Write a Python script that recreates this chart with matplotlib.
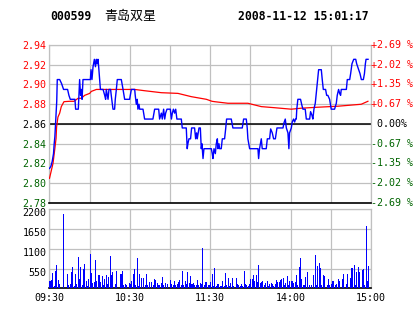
import matplotlib
matplotlib.use("Agg")
import matplotlib.pyplot as plt
from matplotlib.transforms import ScaledTranslation

# header
stock_code = "000599"
stock_name = "青岛双星"
stamp = "2008-11-12 15:01:17"

prev_close = 2.86
price_ticks = [2.94, 2.92, 2.90, 2.88, 2.86, 2.84, 2.82, 2.80, 2.78]
pct_labels = ["+2.69 %", "+2.02 %", "+1.35 %", "+0.67 %", " 0.00%",
              "-0.67 %", "-1.35 %", "-2.02 %", "-2.69 %"]
time_ticks = [0, 60, 120, 180, 240]
time_labels = ["09:30", "10:30", "11:30", "14:00", "15:00"]
vol_ticks = [550, 1100, 1650, 2200]

# minutes since 09:30 (lunch break removed) and price
price_min = [0, 1, 2, 3, 3.5, 4, 4.8, 5.4, 5.8, 7.6, 9, 10.5, 13.5, 14.5, 15.5, 19, 19.5,
             21.5, 22, 22.5, 23.2, 23.8, 24.3, 25, 30.5, 31, 31.7, 32.5, 33.5, 34.3, 35,
             35.6, 36.2, 36.7, 37.4, 38, 40, 41.2, 41.9, 42.4, 43.2, 43.7, 44.4, 45.6,
             46.1, 47.4, 48.6, 49.1, 49.9, 50.6, 53.6, 54.9, 56.1, 59.8, 61.1, 63.6, 64.0,
             64.8, 65.5, 66.0, 66.8, 67.3, 69.8, 71.0, 77.2, 78.5, 81.5, 82.2, 83.5, 84.2,
             85.2, 86.0, 86.7, 87.7, 90.2, 91.0, 91.7, 92.5, 93.4, 94.2, 95.1, 98.4, 99.1,
             102.1, 102.8, 103.3, 104.1, 105.3, 106.1, 108.3, 109.1, 109.8, 110.3, 111.6,
             112.6, 113.3, 113.8, 114.6, 115.3, 120.8, 121.5, 122.0, 122.8, 123.8, 124.5,
             125.3, 125.7, 126.5, 127.0, 128.2, 129.0, 130.7, 131.5, 132.2, 135.7, 136.9,
             143.9, 144.9, 146.9, 147.6, 148.1, 149.4, 155.6, 156.1, 156.8, 158.1, 158.8,
             161.8, 162.6, 164.3, 165.1, 166.3, 167.3, 168.6, 169.8, 174.3, 175.0, 176.0,
             176.8, 178.0, 178.7, 179.2, 180.5, 181.2, 182.2, 183.0, 183.7, 184.2, 184.6,
             185.4, 187.4, 188.4, 189.2, 190.9, 191.7, 194.2, 194.9, 195.9, 196.6, 197.4,
             198.4, 199.9, 200.9, 202.9, 203.6, 204.4, 206.1, 206.9, 207.8, 209.1, 209.8,
             210.3, 212.8, 214.1, 214.8, 215.8, 216.6, 217.3, 217.8, 221.6, 222.3, 224.1,
             224.8, 225.8, 227.1, 228.6, 229.3, 230.8, 231.8, 232.8, 234.3, 235.1, 235.8,
             236.3, 237.8]
price = [2.815, 2.817, 2.822, 2.830, 2.840, 2.847, 2.867, 2.883, 2.905, 2.905, 2.901, 2.895,
         2.895, 2.889, 2.885, 2.885, 2.875, 2.875, 2.889, 2.905, 2.889, 2.895, 2.885, 2.905,
         2.905, 2.915, 2.905, 2.918, 2.9255, 2.918, 2.9255, 2.921, 2.9255, 2.918, 2.905,
         2.895, 2.895, 2.889, 2.885, 2.895, 2.889, 2.885, 2.895, 2.895, 2.889, 2.875, 2.875,
         2.885, 2.895, 2.905, 2.905, 2.895, 2.885, 2.885, 2.895, 2.895, 2.889, 2.880, 2.885,
         2.875, 2.880, 2.875, 2.875, 2.865, 2.865, 2.875, 2.875, 2.865, 2.871, 2.865, 2.875,
         2.865, 2.871, 2.875, 2.875, 2.865, 2.871, 2.875, 2.871, 2.875, 2.865, 2.865, 2.856,
         2.856, 2.835, 2.840, 2.845, 2.845, 2.856, 2.856, 2.845, 2.851, 2.845, 2.856, 2.856,
         2.835, 2.840, 2.825, 2.835, 2.835, 2.830, 2.825, 2.835, 2.830, 2.840, 2.845, 2.835,
         2.840, 2.835, 2.835, 2.845, 2.845, 2.855, 2.865, 2.865, 2.856, 2.856, 2.865, 2.865,
         2.856, 2.845, 2.835, 2.835, 2.825, 2.835, 2.845, 2.835, 2.835, 2.845, 2.845, 2.855,
         2.851, 2.845, 2.845, 2.856, 2.856, 2.861, 2.865, 2.856, 2.851, 2.835, 2.851, 2.856,
         2.862, 2.865, 2.862, 2.865, 2.865, 2.875, 2.885, 2.885, 2.879, 2.875, 2.875, 2.865,
         2.865, 2.8725, 2.869, 2.865, 2.875, 2.881, 2.901, 2.915, 2.915, 2.905, 2.895, 2.895,
         2.889, 2.889, 2.885, 2.879, 2.875, 2.875, 2.881, 2.889, 2.895, 2.891, 2.889, 2.895,
         2.895, 2.905, 2.905, 2.911, 2.921, 2.9255, 2.9255, 2.921, 2.915, 2.911, 2.905,
         2.905, 2.911, 2.921, 2.9255, 2.9255]

avg_min = [0, 2.6, 3.9, 4.9, 5.3, 6.3, 7.6, 8.8, 10.8, 15, 18.3, 21.3, 23.8, 26.2, 30, 31.2,
           35, 63.6, 71, 83.5, 95.9, 105.8, 117.1, 121.3, 123.3, 133.2, 148.1, 158.1, 168,
           180.5, 187.9, 200.4, 215.3, 224, 232.7, 237.7]
avg_price = [2.805, 2.820, 2.834, 2.8455, 2.857, 2.867, 2.871, 2.8776, 2.8826, 2.883, 2.883,
             2.886, 2.886, 2.889, 2.891, 2.893, 2.895, 2.895, 2.8937, 2.8917, 2.891, 2.8877,
             2.885, 2.883, 2.8826, 2.881, 2.881, 2.8776, 2.8765, 2.875, 2.876, 2.877, 2.878,
             2.879, 2.880, 2.883]

vol_min = [0, 1, 2, 3, 4, 5, 6, 7, 10, 13, 14, 15, 16, 17, 18, 19, 20, 21, 22, 23, 24, 25, 26,
           27, 28, 29, 30, 31, 32, 33, 34, 35, 36, 37, 38, 39, 40, 41, 42, 43, 44, 45, 46, 47,
           49, 50, 53, 54, 55, 56, 57, 59, 60, 61, 62, 63, 64, 65, 66, 67, 68, 70, 71, 72, 73,
           74, 76, 77, 78, 79, 80, 81, 82, 83, 84, 85, 86, 88, 90, 91, 92, 93, 94, 95, 96, 97,
           98, 99, 100, 101, 102, 103, 104, 105, 106, 107, 108, 109, 110, 111, 112, 113, 114,
           115, 116, 117, 118, 119, 120, 121, 122, 123, 124, 125, 126, 127, 128, 129, 130, 131,
           132, 133, 134, 135, 136, 137, 139, 140, 141, 142, 143, 144, 145, 146, 147, 148, 149,
           150, 151, 152, 153, 154, 155, 156, 157, 158, 159, 160, 161, 162, 163, 164, 165, 166,
           167, 168, 169, 170, 171, 172, 173, 174, 175, 176, 177, 178, 179, 180, 181, 182, 183,
           184, 185, 186, 187, 188, 189, 190, 191, 192, 194, 195, 197, 198, 199, 200, 201, 202,
           203, 204, 205, 207, 208, 209, 210, 211, 212, 213, 214, 215, 216, 218, 219, 221, 222,
           224, 225, 226, 227, 228, 229, 230, 231, 233, 234, 235, 236, 237, 238]
vol = [210, 240, 430, 70, 490, 660, 240, 120, 2070, 400, 80, 120, 450, 580, 60, 400, 120, 880,
       260, 590, 100, 540, 680, 210, 60, 260, 960, 430, 150, 180, 790, 210, 380, 380, 180, 330,
       100, 260, 380, 120, 310, 890, 380, 450, 120, 490, 400, 490, 80, 120, 100, 150, 120, 210,
       400, 540, 80, 840, 70, 400, 290, 290, 80, 400, 80, 180, 180, 80, 270, 240, 150, 100, 100,
       150, 320, 80, 150, 120, 240, 120, 80, 210, 100, 120, 170, 240, 80, 490, 100, 210, 120,
       450, 150, 330, 120, 150, 80, 80, 240, 100, 150, 120, 1110, 100, 180, 180, 80, 80, 180,
       400, 60, 560, 60, 120, 120, 60, 60, 200, 60, 430, 100, 290, 60, 150, 290, 60, 290, 120,
       80, 60, 120, 60, 490, 120, 80, 60, 120, 260, 260, 380, 200, 380, 180, 660, 150, 180, 200,
       100, 150, 210, 60, 120, 150, 120, 70, 120, 240, 180, 180, 240, 260, 290, 80, 140, 330,
       80, 210, 200, 210, 150, 180, 380, 80, 580, 840, 270, 100, 80, 310, 450, 100, 100, 380,
       940, 80, 630, 700, 560, 100, 360, 330, 80, 260, 80, 120, 210, 200, 100, 120, 260, 210,
       260, 400, 120, 400, 290, 560, 560, 660, 80, 450, 580, 450, 520, 540, 80, 1740, 200, 610]

W, H = 414, 314
GREY = "#c0c0c0"
RED = "#ff0000"
GREEN = "#006400"
MONO = "DejaVu Sans Mono"


def px_rect(x0, y0, x1, y1):
    return [x0 / W, 1 - y1 / H, (x1 - x0) / W, (y1 - y0) / H]


def label_color(p):
    if abs(p - prev_close) < 1e-9:
        return "black"
    return RED if p > prev_close else GREEN


fig = plt.figure(figsize=(W / 100, H / 100), dpi=100)
fig.patch.set_facecolor("white")

# header line
fig.text(50 / W, 1 - 17 / H, stock_code, fontfamily=MONO, fontweight="bold",
         fontsize=8.3, va="center", ha="left")
fig.text(104 / W, 1 - 16 / H, stock_name, fontfamily=["Noto Sans CJK SC", "DejaVu Sans"],
         fontsize=9.4, va="center", ha="left")
fig.text(238 / W, 1 - 17 / H, stamp, fontfamily=MONO, fontweight="bold",
         fontsize=8.3, va="center", ha="left")

# ---- price panel ----
ax = fig.add_axes(px_rect(49.5, 45, 371, 203))
ax.set_xlim(0, 240)
ax.set_ylim(2.78, 2.94)
ax.set_xticks(range(0, 241, 30))
ax.set_xticklabels([])
ax.set_yticks(price_ticks)
ax.set_yticklabels(["%.2f" % p for p in price_ticks], fontfamily=MONO, fontsize=7.2)
for lab, p in zip(ax.get_yticklabels(), price_ticks):
    lab.set_color(label_color(p))
ax.tick_params(length=0, pad=2.2)
ax.grid(True, color=GREY, lw=0.9)
ax.set_axisbelow(True)
for s in ["left", "top", "right"]:
    ax.spines[s].set_color(GREY)
    ax.spines[s].set_linewidth(0.9)
ax.spines["bottom"].set_color("black")
ax.spines["bottom"].set_linewidth(1.2)
ax.axhline(prev_close, color="black", lw=1.1, zorder=2)

ax.plot(avg_min, avg_price, color=RED, lw=0.9, zorder=3)
ax.plot(price_min, price, color="#0000ff", lw=1.0, zorder=4)

for p, txt in zip(price_ticks, pct_labels):
    ax.text(1.0, p, txt, transform=ax.get_yaxis_transform(), fontfamily=MONO,
            fontsize=7.2, color=label_color(p) if txt.strip() != "0.00%" else "black",
            ha="left", va="center", clip_on=False)

# ---- volume panel ----
axv = fig.add_axes(px_rect(49.5, 209.3, 371, 288.3))
axv.set_xlim(0, 240)
axv.set_ylim(0, 2200)
axv.bar(vol_min, vol, width=0.75, color="#0000ff", linewidth=0, align="edge",
        antialiased=False, zorder=3)
axv.set_xticks(range(0, 241, 30))
axv.set_xticklabels([time_labels[time_ticks.index(t)] if t in time_ticks else ""
                     for t in range(0, 241, 30)], fontfamily=MONO, fontsize=7.2)
axv.set_yticks(vol_ticks)
axv.set_yticklabels([str(v) for v in vol_ticks], fontfamily=MONO, fontsize=7.2)
axv.tick_params(length=0)
axv.tick_params(axis="y", pad=2.2)
axv.tick_params(axis="x", pad=3.5)
for lab in axv.get_yticklabels():
    lab.set_transform(lab.get_transform() + ScaledTranslation(0, -0.03, fig.dpi_scale_trans))
axv.grid(True, color=GREY, lw=0.9)
axv.set_axisbelow(True)
for s in ["left", "top", "right"]:
    axv.spines[s].set_color(GREY)
    axv.spines[s].set_linewidth(0.9)
axv.spines["bottom"].set_color("black")
axv.spines["bottom"].set_linewidth(1.2)

fig.savefig("out.png", dpi=100)
